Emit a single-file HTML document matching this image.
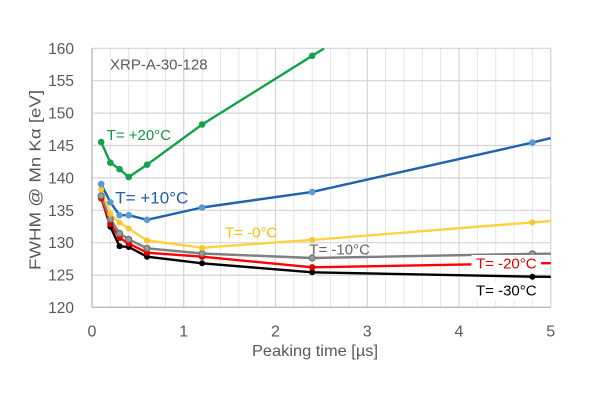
<!DOCTYPE html>
<html><head><meta charset="utf-8"><style>
html,body{margin:0;padding:0;background:#fff;}
svg{display:block;}
text{font-family:"Liberation Sans",Arial,sans-serif;}
</style></head><body>
<svg width="600" height="401" viewBox="0 0 600 401" xmlns="http://www.w3.org/2000/svg">
<rect width="600" height="401" fill="#fff"/>
<defs><clipPath id="pc"><rect x="92" y="48.3" width="459" height="259"/></clipPath></defs>
<g stroke="#e6e6e6" stroke-width="1">
<line x1="110.35" y1="48.3" x2="110.35" y2="307.3"/><line x1="128.7" y1="48.3" x2="128.7" y2="307.3"/><line x1="147.05" y1="48.3" x2="147.05" y2="307.3"/><line x1="165.4" y1="48.3" x2="165.4" y2="307.3"/>
<line x1="202.1" y1="48.3" x2="202.1" y2="307.3"/><line x1="220.45" y1="48.3" x2="220.45" y2="307.3"/><line x1="238.8" y1="48.3" x2="238.8" y2="307.3"/><line x1="257.15" y1="48.3" x2="257.15" y2="307.3"/>
<line x1="293.85" y1="48.3" x2="293.85" y2="307.3"/><line x1="312.2" y1="48.3" x2="312.2" y2="307.3"/><line x1="330.55" y1="48.3" x2="330.55" y2="307.3"/><line x1="348.9" y1="48.3" x2="348.9" y2="307.3"/>
<line x1="385.6" y1="48.3" x2="385.6" y2="307.3"/><line x1="403.95" y1="48.3" x2="403.95" y2="307.3"/><line x1="422.3" y1="48.3" x2="422.3" y2="307.3"/><line x1="440.65" y1="48.3" x2="440.65" y2="307.3"/>
<line x1="477.35" y1="48.3" x2="477.35" y2="307.3"/><line x1="495.7" y1="48.3" x2="495.7" y2="307.3"/><line x1="514.05" y1="48.3" x2="514.05" y2="307.3"/><line x1="532.4" y1="48.3" x2="532.4" y2="307.3"/>
</g>
<g stroke="#d4d4d4" stroke-width="1.2">
<line x1="183.75" y1="48.3" x2="183.75" y2="307.3"/><line x1="275.5" y1="48.3" x2="275.5" y2="307.3"/><line x1="367.25" y1="48.3" x2="367.25" y2="307.3"/><line x1="459" y1="48.3" x2="459" y2="307.3"/><line x1="550.75" y1="48.3" x2="550.75" y2="307.3"/>
<line x1="92" y1="48.3" x2="550.75" y2="48.3"/><line x1="92" y1="80.7" x2="550.75" y2="80.7"/><line x1="92" y1="113.1" x2="550.75" y2="113.1"/><line x1="92" y1="145.5" x2="550.75" y2="145.5"/><line x1="92" y1="177.9" x2="550.75" y2="177.9"/><line x1="92" y1="210.3" x2="550.75" y2="210.3"/><line x1="92" y1="242.7" x2="550.75" y2="242.7"/><line x1="92" y1="275.1" x2="550.75" y2="275.1"/>
</g>
<g stroke="#bfbfbf" stroke-width="1.5">
<line x1="92" y1="48.3" x2="92" y2="307.3"/><line x1="92" y1="307.3" x2="550.75" y2="307.3"/>
</g>
<g fill="#595959" font-size="15.5" text-anchor="end">
<text x="74" y="53.8">160</text><text x="74" y="86.2">155</text><text x="74" y="118.6">150</text><text x="74" y="151">145</text><text x="74" y="183.4">140</text><text x="74" y="215.8">135</text><text x="74" y="248.2">130</text><text x="74" y="280.6">125</text><text x="74" y="313">120</text>
</g>
<g fill="#595959" font-size="16" text-anchor="middle">
<text x="92" y="336.7">0</text><text x="183.75" y="336.7">1</text><text x="275.5" y="336.7">2</text><text x="367.25" y="336.7">3</text><text x="459" y="336.7">4</text><text x="550.75" y="336.7">5</text>
</g>
<text x="252" y="356" fill="#595959" font-size="16" textLength="126" lengthAdjust="spacingAndGlyphs">Peaking time [µs]</text>
<text transform="translate(40.7,180) rotate(-90)" fill="#595959" font-size="16" text-anchor="middle" textLength="180" lengthAdjust="spacingAndGlyphs">FWHM @ Mn Kα [eV]</text>
<text x="110" y="69.3" fill="#595959" font-size="15">XRP-A-30-128</text>

<g clip-path="url(#pc)" fill="none" stroke-width="2.4" stroke-linejoin="round">
<polyline stroke="#000" points="101.18,197.5 110.35,226.7 119.53,246.3 128.7,247 147.05,256.7 202.1,263.3 312.2,272.3 532.4,276.7 550.75,276.8"/>
<polyline stroke="#ff0000" points="101.18,198.3 110.35,224 119.53,237.8 128.7,243.5 147.05,252.7 202.1,256.7 312.2,267.3 532.4,263.3 550.75,263.2"/>
<polyline stroke="#7f7f7f" points="101.18,195.8 110.35,219.1 119.53,233.4 128.7,239.3 147.05,248.3 202.1,253.5 312.2,258 532.4,253.8 550.75,253.7"/>
<polyline stroke="#ffd23f" points="101.18,189.3 110.35,214 119.53,222.6 128.7,228.5 147.05,240.5 202.1,247.7 312.2,239.9 532.4,222.4 550.75,221.1"/>
<polyline stroke="#1f63b0" points="101.18,184.1 110.35,202.3 119.53,215.2 128.7,215.2 147.05,219.8 202.1,207.5 312.2,191.9 532.4,142.6 550.75,138.1"/>
<polyline stroke="#12a24a" points="101.18,142 110.35,162.7 119.53,169.2 128.7,177 147.05,164.7 202.1,124.5 312.2,55.8 324.2,48.3"/>
</g>
<g>
<g fill="#000"><circle cx="101.18" cy="197.5" r="3"/><circle cx="110.35" cy="226.7" r="3"/><circle cx="119.53" cy="246.3" r="3"/><circle cx="128.7" cy="247" r="3"/><circle cx="147.05" cy="256.7" r="3"/><circle cx="202.1" cy="263.3" r="3"/><circle cx="312.2" cy="272.3" r="3"/><circle cx="532.4" cy="276.7" r="3"/></g>
<g fill="#e00000"><circle cx="101.18" cy="198.3" r="3.2"/><circle cx="110.35" cy="224" r="3.2"/><circle cx="119.53" cy="237.8" r="3.2"/><circle cx="128.7" cy="243.5" r="3.2"/><circle cx="147.05" cy="252.7" r="3.2"/><circle cx="202.1" cy="256.7" r="3.2"/><circle cx="312.2" cy="267.3" r="3.2"/></g>
<g fill="#9a9a9a" stroke="#6f6f6f" stroke-width="1.2"><circle cx="101.18" cy="195.8" r="3"/><circle cx="110.35" cy="219.1" r="3"/><circle cx="119.53" cy="233.4" r="3"/><circle cx="128.7" cy="239.3" r="3"/><circle cx="147.05" cy="248.3" r="3"/><circle cx="202.1" cy="253.5" r="3"/><circle cx="312.2" cy="258" r="3"/><circle cx="532.4" cy="253.8" r="3"/></g>
<g fill="#f6c62e"><circle cx="101.18" cy="189.3" r="3"/><circle cx="110.35" cy="214" r="3"/><circle cx="119.53" cy="222.6" r="3"/><circle cx="128.7" cy="228.5" r="3"/><circle cx="147.05" cy="240.5" r="3"/><circle cx="202.1" cy="247.7" r="3"/><circle cx="312.2" cy="239.9" r="3"/><circle cx="532.4" cy="222.4" r="3"/></g>
<g fill="#5b9bd5"><circle cx="101.18" cy="184.1" r="3.3"/><circle cx="110.35" cy="202.3" r="3.3"/><circle cx="119.53" cy="215.2" r="3.3"/><circle cx="128.7" cy="215.2" r="3.3"/><circle cx="147.05" cy="219.8" r="3.3"/><circle cx="202.1" cy="207.5" r="3.3"/><circle cx="312.2" cy="191.9" r="3.3"/><circle cx="532.4" cy="142.6" r="3.3"/></g>
<g fill="#12a24a"><circle cx="101.18" cy="142" r="3.3"/><circle cx="110.35" cy="162.7" r="3.3"/><circle cx="119.53" cy="169.2" r="3.3"/><circle cx="128.7" cy="177" r="3.3"/><circle cx="147.05" cy="164.7" r="3.3"/><circle cx="202.1" cy="124.5" r="3.3"/><circle cx="312.2" cy="55.8" r="3.3"/></g>
</g>
<text x="106.7" y="140" fill="#17934a" font-size="15">T= +20°C</text>
<text x="115.3" y="203.3" fill="#1f5fa8" font-size="16.5" textLength="73" lengthAdjust="spacingAndGlyphs">T= +10°C</text>
<text x="225" y="237.3" fill="#f5c000" font-size="15">T= -0°C</text>
<text x="309.3" y="254.3" fill="#666" font-size="15">T= -10°C</text>
<rect x="471.5" y="255" width="69.5" height="17" fill="#fff"/>
<text x="476" y="268.3" fill="#e00000" font-size="15">T= -20°C</text>
<rect x="472" y="282" width="68" height="18" fill="#fff"/>
<text x="476" y="295.7" fill="#000" font-size="15">T= -30°C</text>
</svg>
</body></html>
